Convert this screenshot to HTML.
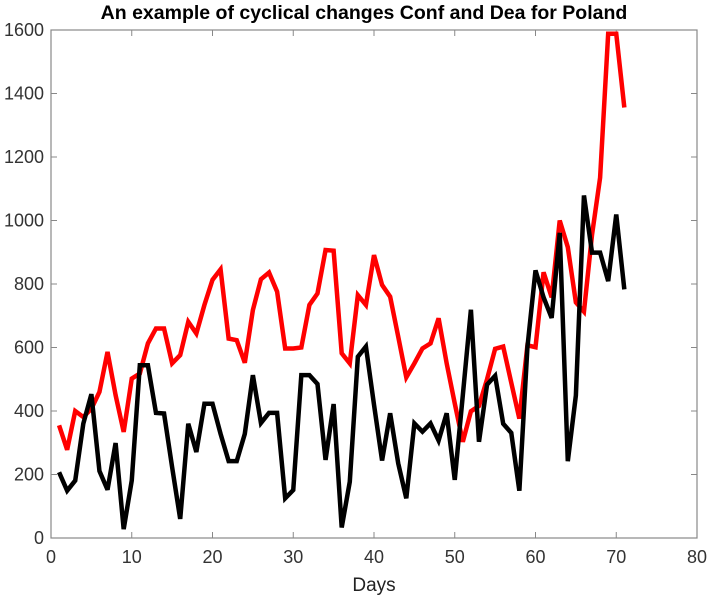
<!DOCTYPE html>
<html><head><meta charset="utf-8"><style>
body{margin:0;background:#fff;}
svg text{font-family:"Liberation Sans",Arial,sans-serif;}
</style></head><body>
<svg width="708" height="605" viewBox="0 0 708 605">
<text x="364" y="19" text-anchor="middle" font-size="19.5" font-weight="bold" fill="#000">An example of cyclical changes Conf and Dea for Poland</text>
<g id="axes"></g>
<g id="series"></g>
<text x="374" y="591" text-anchor="middle" font-size="19" fill="#222">Days</text>
</svg>
<script>
const xTicks=[0,10,20,30,40,50,60,70,80];
const yTicks=[0,200,400,600,800,1000,1200,1400,1600];
const days=[];for(let i=1;i<=71;i++)days.push(i);
const confValues=[355,278,400,381,407,460,586,450,334,502,518,613,660,660,550,576,681,644,734,813,846,628,623,552,718,815,836,776,597,597,600,734,770,907,905,582,550,765,734,891,797,760,634,506,550,597,613,692,550,424,303,399,416,500,596,603,489,376,607,601,837,758,1000,916,742,713,955,1135,1588,1588,1356];
const deaValues=[207,149,181,360,453,211,152,299,28,181,544,544,394,392,223,60,360,271,423,423,328,242,242,328,513,362,394,394,125,151,513,513,485,246,422,33,177,571,603,420,244,393,235,125,361,335,361,307,393,183,450,719,303,483,511,360,331,149,601,843,758,693,961,242,449,1079,899,899,809,1019,783];
const L=51,R=697,T=30,B=538;
const xs=v=>L+(v-0)/(80-0)*(R-L);
const ys=v=>B-(v-0)/(1600-0)*(B-T);
const NS='http://www.w3.org/2000/svg';
const axes=document.getElementById('axes');
function mk(tag,attrs,parent){const e=document.createElementNS(NS,tag);for(const k in attrs)e.setAttribute(k,attrs[k]);parent.appendChild(e);return e;}
const frame=mk('rect',{x:L,y:T,width:R-L,height:B-T,fill:'none',stroke:'#888','stroke-width':1.2},axes);


xTicks.forEach(t=>{
 const x=xs(t);
 const a=mk('line',{x1:x,x2:x,y1:B,y2:B-6,stroke:'#888'},axes);
 
 
 const b=mk('line',{x1:x,x2:x,y1:T,y2:T+6,stroke:'#888'},axes);
 
 
 const tx=mk('text',{x:x,y:B+25,'text-anchor':'middle','font-size':18,fill:'#333'},axes);
 tx.textContent=t;
 
 
});
yTicks.forEach(t=>{
 const y=ys(t);
 const a=mk('line',{x1:L,x2:L+6,y1:y,y2:y,stroke:'#888'},axes);
 
 
 const b=mk('line',{x1:R,x2:R-6,y1:y,y2:y,stroke:'#888'},axes);
 
 
 const tx=mk('text',{x:L-7,y:y+6,'text-anchor':'end','font-size':18,fill:'#333'},axes);
 tx.textContent=t;
 
 
});
const series=document.getElementById('series');
function line(vals,color,name){
 const p=mk('polyline',{points:vals.map((v,i)=>xs(days[i])+','+ys(v)).join(' '),fill:'none',stroke:color,'stroke-width':4.5,'stroke-linejoin':'miter','stroke-miterlimit':3},series);
 
 
}
line(confValues,'#ff0000','conf-line');
line(deaValues,'#000000','dea-line');
</script>
</body></html>
